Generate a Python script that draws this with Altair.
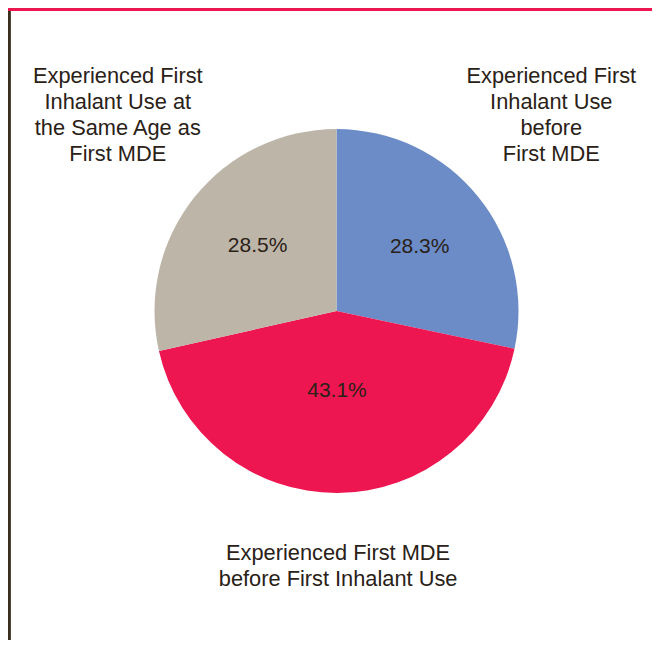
import altair as alt
import pandas as pd

categories = [
    "Experienced First Inhalant Use before First MDE",
    "Experienced First MDE before First Inhalant Use",
    "Experienced First Inhalant Use at the Same Age as First MDE",
]
values = [28.3, 43.1, 28.5]
outer_labels = [
    "Experienced First\nInhalant Use\nbefore\nFirst MDE",
    "Experienced First MDE\nbefore First Inhalant Use",
    "Experienced First\nInhalant Use at\nthe Same Age as\nFirst MDE",
]
order = [1, 2, 3]
colors = ["#6b8cc7", "#ee1651", "#bcb5a8"]

df = pd.DataFrame({"category": categories, "value": values,
                   "outer": outer_labels, "order": order})

TEXT = "#2a2117"
FONT = "Liberation Sans"
CX, CY = 328.5, 303
W, H = 644, 632

base = alt.Chart(df).encode(
    theta=alt.Theta("value:Q", stack=True),
    order=alt.Order("order:Q"),
    detail="category:N",
    x=alt.value(CX),
    y=alt.value(CY),
)

pie = base.mark_arc(outerRadius=182, stroke=None).encode(
    color=alt.Color("category:N", scale=alt.Scale(domain=categories, range=colors), legend=None)
)


def pct_layer(i, radius, dx, dy):
    cat = categories[i]
    return base.transform_calculate(
        t=f"datum.category == '{cat}' ? format(datum.value, '.1f') + '%' : ''"
    ).mark_text(radius=radius, dx=dx, dy=dy, fontSize=21, font=FONT, color=TEXT,
                align="center", baseline="middle").encode(text="t:N")


def outer_layer(i, radius, dx, dy):
    cat = categories[i]
    return base.transform_calculate(
        t=f"datum.category == '{cat}' ? datum.outer : ''"
    ).mark_text(radius=radius, dx=dx, dy=dy, fontSize=21.8, font=FONT, color=TEXT,
                align="center", baseline="middle", lineBreak="\n", lineHeight=26).encode(text="t:N")


top_rule = alt.Chart(df).mark_rule(color="#ee1651", strokeWidth=3).encode(
    x=alt.value(0), x2=alt.value(W), y=alt.value(1.5)
)
left_rule = alt.Chart(df).mark_rule(color="#3a2e1e", strokeWidth=2.5).encode(
    x=alt.value(1.25), y=alt.value(3), y2=alt.value(H)
)

chart = alt.layer(
    pie,
    pct_layer(0, 107, 0, 3),
    pct_layer(1, 80, 0, 0),
    pct_layer(2, 101, 0, -2),
    outer_layer(0, 288, -9, -54),
    outer_layer(1, 256, 0, -14),
    outer_layer(2, 289, 7, -55),
    top_rule,
    left_rule,
).properties(
    width=W, height=H, autosize=alt.AutoSizeParams(type="none"), padding=0,
    background="white",
).configure_view(stroke=None)

chart.save("out.html", embed_options={"renderer": "svg", "actions": False})
